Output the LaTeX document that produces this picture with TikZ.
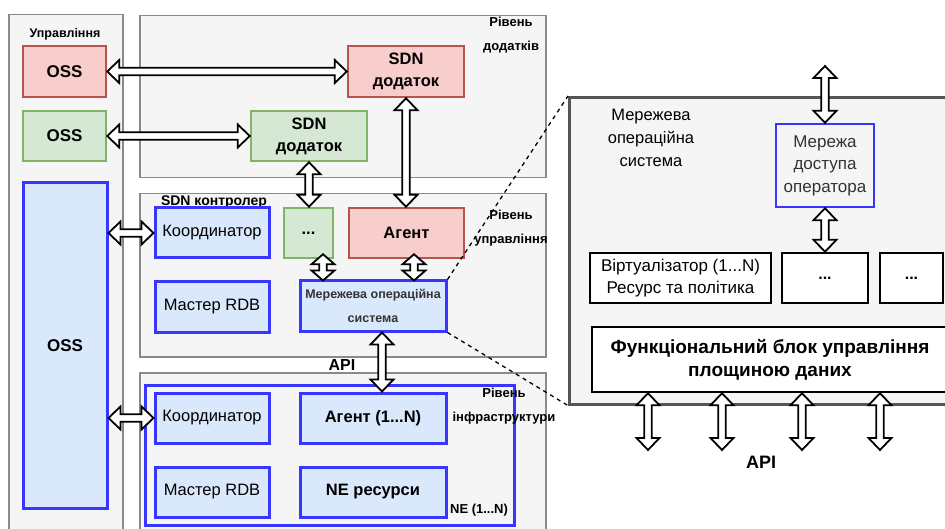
\documentclass[tikz,border=0pt]{standalone}
\usepackage{fontspec}
\setmainfont{Liberation Sans}
\usetikzlibrary{calc}
\definecolor{redF}{HTML}{F8CECC}
\definecolor{redD}{HTML}{B85450}
\definecolor{grnF}{HTML}{D5E8D4}
\definecolor{grnD}{HTML}{82B366}
\definecolor{bluF}{HTML}{DAE8FC}
\definecolor{bluD}{HTML}{3636FF}
\definecolor{panF}{HTML}{F5F5F5}
\definecolor{panD}{HTML}{8A8A8A}
\definecolor{rpanD}{HTML}{555555}
\definecolor{txtG}{HTML}{333333}
\newcommand\faH{11.5pt}
\newcommand\faL{12pt}
\newcommand\faW{3.8pt}
\newcommand\flexarr[2]{%
  \path (#1) coordinate (faS) (#2) coordinate (faE);
  \draw[flexline] (faS)
    -- ($(faS)!\faL!(faE)!\faH!90:(faE)$)
    -- ($(faS)!\faL!(faE)!\faW!90:(faE)$)
    -- ($(faE)!\faL!(faS)!\faW!-90:(faS)$)
    -- ($(faE)!\faL!(faS)!\faH!-90:(faS)$)
    -- (faE)
    -- ($(faE)!\faL!(faS)!\faH!90:(faS)$)
    -- ($(faE)!\faL!(faS)!\faW!90:(faS)$)
    -- ($(faS)!\faL!(faE)!\faW!-90:(faE)$)
    -- ($(faS)!\faL!(faE)!\faH!-90:(faE)$)
    -- cycle;}
\tikzset{
  flexline/.style={draw=black, fill=white, line width=1.8pt, line join=miter},
  panel/.style={draw=panD, fill=panF, line width=1.5pt, inner sep=0pt, anchor=north west},
  rpanel/.style={draw=rpanD, fill=panF, line width=2.6pt, inner sep=0pt, anchor=north west},
  bigbold/.style={font=\bfseries\fontsize{16.5}{22}\selectfont, align=center, text=black},
  redbox/.style={draw=redD, fill=redF, line width=2.5pt, inner sep=0pt, bigbold},
  grnbox/.style={draw=grnD, fill=grnF, line width=2.5pt, inner sep=0pt, bigbold},
  blubox/.style={draw=bluD, fill=bluF, line width=3pt, inner sep=0pt, bigbold},
  wbox/.style={draw=black, fill=white, line width=2.5pt, inner sep=0pt, align=center, font=\fontsize{17}{22}\selectfont},
  lbl/.style={inner sep=0pt, align=center, font=\bfseries\fontsize{13}{24}\selectfont},
  dashline/.style={draw=black, line width=1.3pt, dash pattern=on 4pt off 4pt},
}
\begin{document}
\begin{tikzpicture}[x=1pt,y=-1pt]
\useasboundingbox (0,0) rectangle (945,529);
\clip (0,0) rectangle (945,529);

% panels
\node[panel, minimum width=114pt, minimum height=530pt] (mgmt) at (8,14) {};
\node[panel, minimum width=406pt, minimum height=162pt] (app) at (139,15) {};
\node[panel, minimum width=406pt, minimum height=163pt] (ctl) at (139,193) {};
\node[panel, minimum width=406pt, minimum height=170pt] (inf) at (139,372) {};
\node[draw=bluD, line width=3pt, inner sep=0pt, anchor=north west, minimum width=369pt, minimum height=140pt] (ne) at (144,384) {};
\node[rpanel, minimum width=400pt, minimum height=307pt] (rp) at (568,96) {};

% labels
\node[lbl, font=\bfseries\fontsize{12.5}{24}\selectfont] (lmgmt) at (65,34) {Управління};
\node[lbl] (lapp) at (511,35) {Рівень\\додатків};
\node[lbl] (lctl) at (511,228.5) {Рівень\\управління};
\node[lbl] (linf) at (504,406.5) {Рівень\\інфраструктури};
\node[lbl, font=\bfseries\fontsize{14}{20}\selectfont] (lsdnc) at (214,202) {SDN контролер};
\node[lbl] (lne) at (479,510) {NE (1...N)};
\node[lbl, font=\bfseries\fontsize{16}{20}\selectfont] (lapi1) at (342,365) {API};
\node[lbl, font=\bfseries\fontsize{18}{20}\selectfont] (lapi2) at (761,462) {API};

% management OSS
\node[redbox, minimum width=83pt, minimum height=51pt, font=\bfseries\fontsize{17}{22}\selectfont] (oss1) at (64.5,71.5) {OSS};
\node[grnbox, minimum width=83pt, minimum height=50pt, font=\bfseries\fontsize{17}{22}\selectfont] (oss2) at (64.5,136) {OSS};
\node[blubox, minimum width=84pt, minimum height=325pt, font=\bfseries\fontsize{17}{22}\selectfont] (oss3) at (65,345.5) {OSS};

% application layer
\node[redbox, minimum width=116pt, minimum height=51pt] (sdn1) at (406,71.5) {SDN\\додаток};
\node[grnbox, minimum width=116pt, minimum height=50pt] (sdn2) at (309,136) {SDN\\додаток};

% control layer
\node[blubox, minimum width=114pt, minimum height=50pt, font=\fontsize{16.5}{22}\selectfont] (k1) at (212,233) {Координатор};
\node[grnbox, minimum width=49pt, minimum height=50pt] (dots) at (308.5,233) {...};
\node[redbox, minimum width=115pt, minimum height=50pt] (agent) at (406.5,233) {Агент};
\node[blubox, minimum width=114pt, minimum height=50pt, font=\fontsize{16.5}{22}\selectfont] (rdb1) at (212,307) {Мастер RDB};
\node[blubox, minimum width=146pt, minimum height=50pt, font=\bfseries\fontsize{12.5}{24}\selectfont, text=txtG] (nos) at (373,306) {Мережева операційна\\система};

% infrastructure layer
\node[blubox, minimum width=114pt, minimum height=50pt, font=\fontsize{16.5}{22}\selectfont] (k2) at (212,418) {Координатор};
\node[blubox, minimum width=146pt, minimum height=50pt] (agentn) at (373,418) {Агент (1...N)};
\node[blubox, minimum width=114pt, minimum height=50pt, font=\fontsize{16.5}{22}\selectfont] (rdb2) at (212,492) {Мастер RDB};
\node[blubox, minimum width=146pt, minimum height=50pt] (neres) at (373,492) {NE ресурси};

% right panel content
\node[inner sep=0pt, align=center, font=\fontsize{16.5}{23}\selectfont] (lnos) at (651,137.5) {Мережева\\операційна\\система};
\node[draw=bluD, fill=panF, line width=2.5pt, inner sep=0pt, align=center, text=txtG, font=\fontsize{17}{22.5}\selectfont, minimum width=98pt, minimum height=83pt] (mda) at (825,165.5) {Мережа\\доступа\\оператора};
\node[wbox, minimum width=181pt, minimum height=50pt] (virt) at (680.5,278) {Віртуалізатор (1...N)\\Ресурс та політика};
\node[wbox, minimum width=86pt, minimum height=50pt, font=\bfseries\fontsize{16}{22}\selectfont] (d1) at (825,278) {...};
\node[wbox, minimum width=63pt, minimum height=50pt, font=\bfseries\fontsize{16}{22}\selectfont] (d2) at (911.5,278) {...};
\node[wbox, minimum width=356pt, minimum height=65pt, font=\bfseries\fontsize{19}{23}\selectfont] (fb) at (770,359.5) {Функціональний блок управління\\площиною даних};

% dashed zoom lines
\draw[dashline] (nos.north east) -- (rp.north west);
\draw[dashline] (nos.south east) -- (rp.south west);

% connectors
\flexarr{oss1.east}{sdn1.west}
\flexarr{oss2.east}{sdn2.west}
\flexarr{oss3.east |- k1.west}{k1.west}
\flexarr{oss3.east |- k2.west}{k2.west}
\flexarr{sdn2.south}{sdn2.south |- dots.north}
\flexarr{sdn1.south}{sdn1.south |- agent.north}
\coordinate (c7) at ([xshift=14.5pt,yshift=5pt]dots.south);
\coordinate (c8) at ([xshift=7.5pt,yshift=5pt]agent.south);
{\renewcommand\faL{10pt}%
\flexarr{c7}{[yshift=-1pt]c7 |- nos.north}
\flexarr{c8}{[yshift=-1pt]c8 |- nos.north}}
\coordinate (c9) at ([xshift=9pt]nos.south);
\flexarr{c9}{c9 |- agentn.north}
\coordinate (topfree) at (825,66);
\flexarr{topfree}{mda.north}
\flexarr{mda.south}{d1.north}
\coordinate (b1) at (648,450);
\coordinate (b2) at (722,450);
\coordinate (b3) at (802,450);
\coordinate (b4) at (880,450);
\flexarr{fb.south -| b1}{b1}
\flexarr{fb.south -| b2}{b2}
\flexarr{fb.south -| b3}{b3}
\flexarr{fb.south -| b4}{b4}
\end{tikzpicture}
\end{document}
